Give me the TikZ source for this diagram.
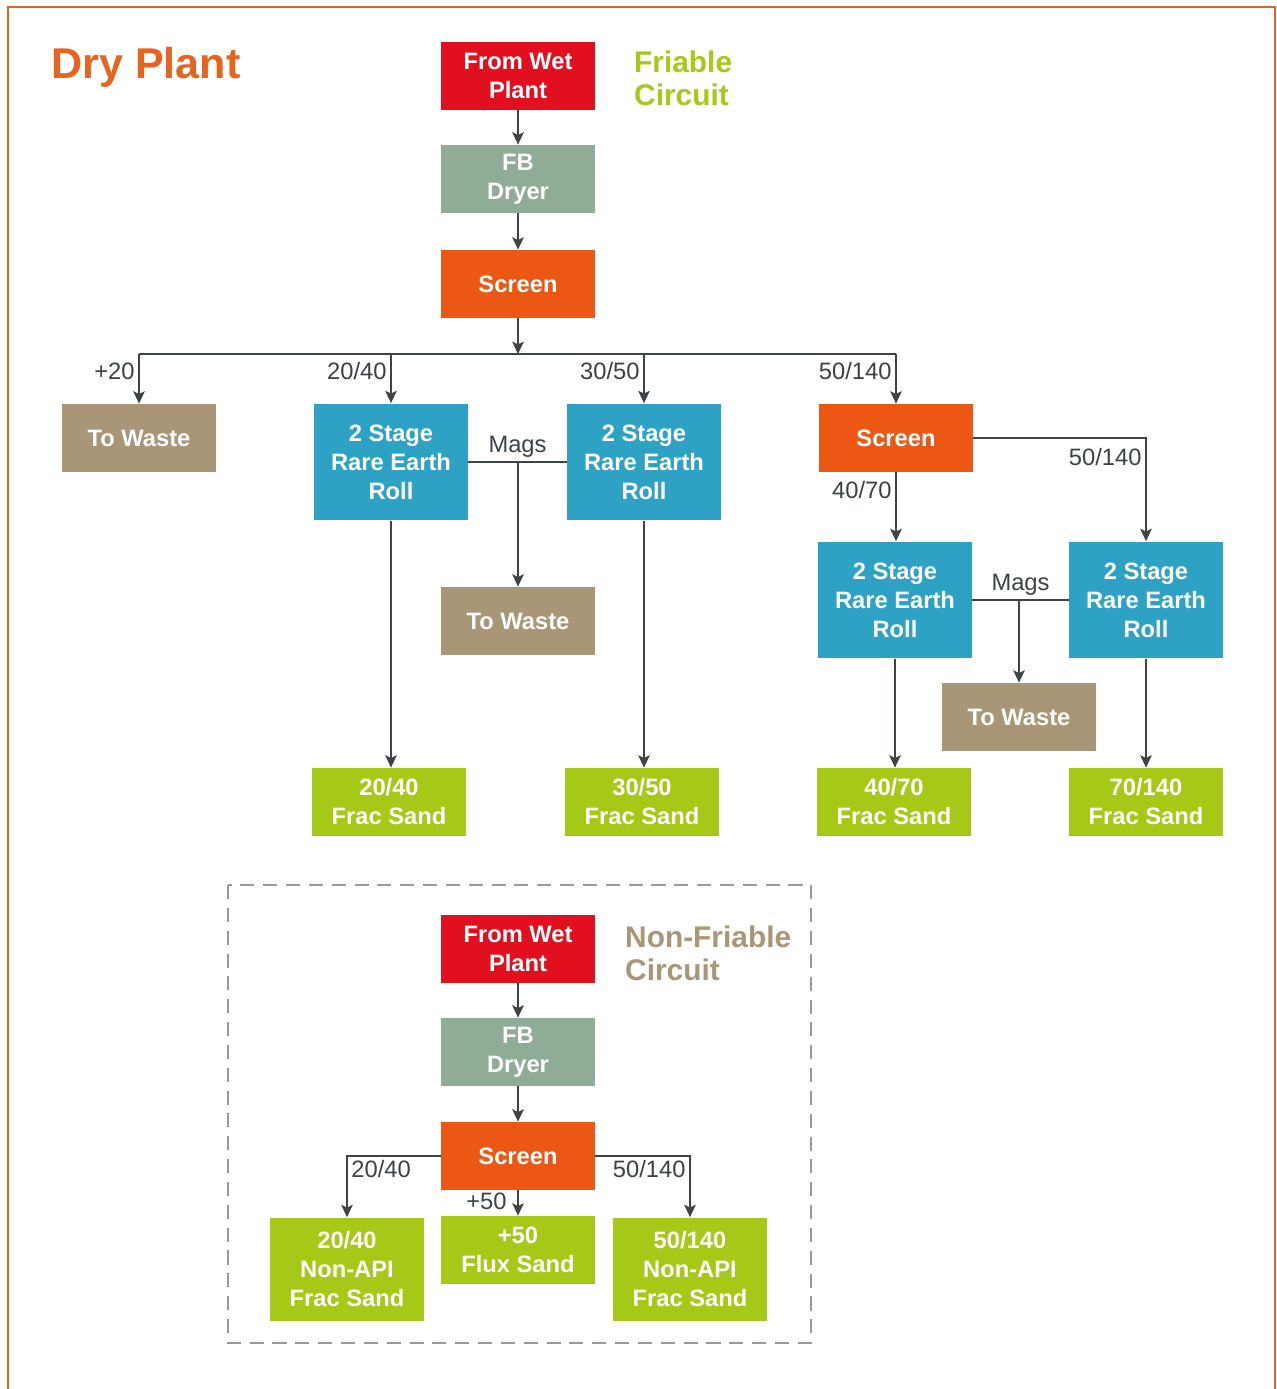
\documentclass[tikz,border=0pt]{standalone}
\usepackage{fontspec}
\setmainfont{Liberation Sans}
\usetikzlibrary{arrows.meta}
\definecolor{wetred}{HTML}{E2101E}
\definecolor{dryergreen}{HTML}{8FAC96}
\definecolor{screenorange}{HTML}{EC5814}
\definecolor{wastetan}{HTML}{A89676}
\definecolor{rollblue}{HTML}{2EA2C4}
\definecolor{sandgreen}{HTML}{A6C816}
\definecolor{linegray}{HTML}{3C4448}
\definecolor{labelgray}{HTML}{3A4246}
\definecolor{frameorange}{HTML}{E8641E}
\tikzset{
 box/.style={rectangle, fill=#1, text=white, minimum width=3.08cm, minimum height=1.36cm,
   inner sep=0pt, align=center, font=\fontsize{13.5}{16.5}\selectfont\bfseries},
 roll/.style={box=rollblue, minimum height=2.34cm},
 line/.style={draw=linegray, line width=1.1pt},
 flow/.style={line, -{Stealth[length=7pt, width=6.5pt, inset=1.5pt]}},
 lbl/.style={text=labelgray, font=\fontsize{13.5}{16}\selectfont, inner sep=2pt},
}

\begin{document}
\begin{tikzpicture}[x=0.02cm, y=-0.02cm]
\useasboundingbox (0,0) rectangle (1276,1389);
\draw[frameorange, line width=1.4pt] (8,1389) -- (8,7) -- (1275,7) -- (1275,1389);
\node[text=frameorange, font=\fontsize{24.5}{28}\selectfont\bfseries] (ttl) at (146,67) {Dry Plant};

% friable circuit
\node[box=wetred] (wet) at (518,76) {From Wet\\Plant};
\node[text=sandgreen, anchor=west, align=left, font=\fontsize{17}{18.7}\selectfont\bfseries] (fri) at (628,78) {Friable\\Circuit};
\node[box=dryergreen] (dryer) at (518,179) {FB\\Dryer};
\node[box=screenorange] (scr) at (518,284) {Screen};
\coordinate (bus) at (518,354);
\node[box=wastetan] (wasteA) at (139,438) {To Waste};
\node[roll] (rollA) at (391,462) {2 Stage\\Rare Earth\\Roll};
\node[roll] (rollB) at (644,462) {2 Stage\\Rare Earth\\Roll};
\node[box=screenorange] (scrB) at (896,438) {Screen};
\node[box=wastetan] (wasteB) at (518,621) {To Waste};
\node[roll] (rollC) at (895,600) {2 Stage\\Rare Earth\\Roll};
\node[roll] (rollD) at (1146,600) {2 Stage\\Rare Earth\\Roll};
\node[box=wastetan] (wasteC) at (1019,717) {To Waste};
\node[box=sandgreen] (sandA) at (389,802) {20/40\\Frac Sand};
\node[box=sandgreen] (sandB) at (642,802) {30/50\\Frac Sand};
\node[box=sandgreen] (sandC) at (894,802) {40/70\\Frac Sand};
\node[box=sandgreen] (sandD) at (1146,802) {70/140\\Frac Sand};

\draw[flow] (wet) -- (dryer);
\draw[flow] (dryer) -- (scr);
\draw[flow] (scr) -- (bus);
\draw[line] (bus -| wasteA) -- (bus -| scrB);
\draw[flow] (bus -| wasteA) -- node[lbl, left, pos=.35] {+20} (wasteA);
\draw[flow] (bus -| rollA) -- node[lbl, left, pos=.35] {20/40} (rollA);
\draw[flow] (bus -| rollB) -- node[lbl, left, pos=.35] {30/50} (rollB);
\draw[flow] (bus -| scrB) -- node[lbl, left, pos=.35] {50/140} (scrB);
\draw[line] (rollA) -- node[lbl, above] {Mags} (rollB);
\draw[flow] (wasteB |- rollA) -- (wasteB);
\draw[flow] (scrB.south) -- node[lbl, left, pos=.25] {40/70} (scrB.south |- rollC.north);
\draw[flow] (scrB.east) -| node[lbl, left, pos=.59] {50/140} (rollD.north);
\draw[line] (rollC) -- node[lbl, above] {Mags} (rollD);
\draw[flow] (wasteC |- rollC) -- (wasteC);
\draw[flow] (rollA.south) -- (rollA.south |- sandA.north);
\draw[flow] (rollB.south) -- (rollB.south |- sandB.north);
\draw[flow] (rollC.south) -- (rollC.south |- sandC.north);
\draw[flow] (rollD.south) -- (rollD.south |- sandD.north);

% non-friable circuit
\draw[gray!80, line width=1pt, dash pattern=on 8pt off 5pt] (228,885) rectangle (811,1343);
\node[box=wetred] (wet2) at (518,949) {From Wet\\Plant};
\node[text=wastetan, anchor=west, align=left, font=\fontsize{17}{18.7}\selectfont\bfseries] (nonfri) at (619,953) {Non-Friable\\Circuit};
\node[box=dryergreen] (dryer2) at (518,1052) {FB\\Dryer};
\node[box=screenorange] (scr2) at (518,1156) {Screen};
\node[box=sandgreen, minimum height=2.06cm] (nonA) at (347,1269) {20/40\\Non-API\\Frac Sand};
\node[box=sandgreen] (flux) at (518,1250) {+50\\Flux Sand};
\node[box=sandgreen, minimum height=2.06cm] (nonC) at (690,1269) {50/140\\Non-API\\Frac Sand};

\draw[flow] (wet2) -- (dryer2);
\draw[flow] (dryer2) -- (scr2);
\draw[flow] (scr2.west) -| node[lbl, right, pos=.61] {20/40} (nonA.north);
\draw[flow] (scr2) -- node[lbl, left, inner xsep=6pt, pos=.45] {+50} (flux);
\draw[flow] (scr2.east) -| node[lbl, left, pos=.61] {50/140} (nonC.north);
\end{tikzpicture}
\end{document}
